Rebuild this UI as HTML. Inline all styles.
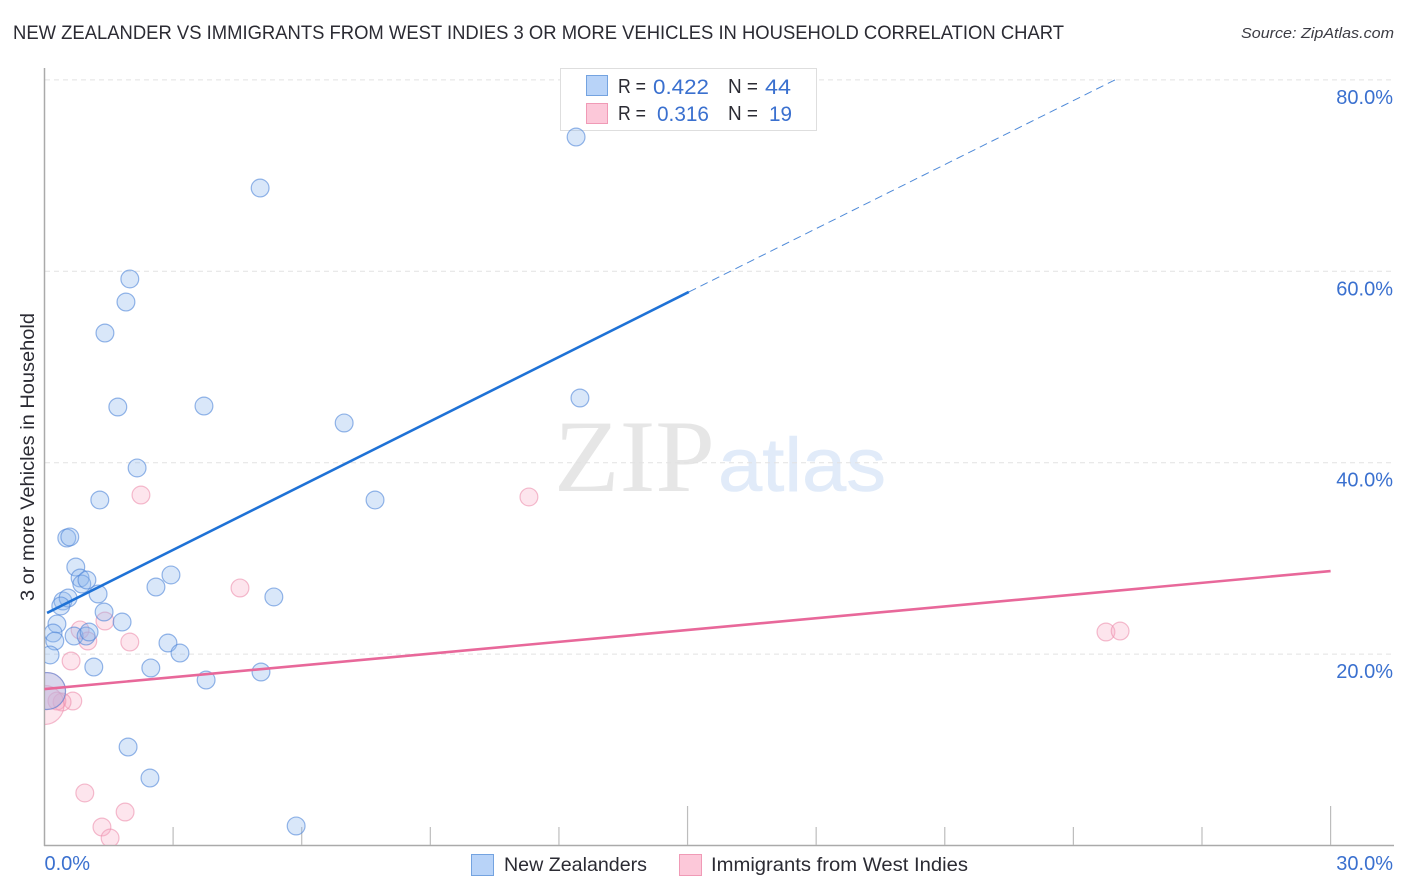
<!DOCTYPE html>
<html lang="en">
<head>
<meta charset="utf-8">
<title>New Zealander vs Immigrants from West Indies correlation chart</title>
<style>
html,body{margin:0;padding:0;background:#fff;width:1406px;height:892px;overflow:hidden}
svg{display:block;font-family:"Liberation Sans",sans-serif}
</style>
</head>
<body>
<svg id="chart" xmlns="http://www.w3.org/2000/svg" width="1406" height="892" viewBox="0 0 1406 892">
  <text x="13" y="39" font-size="19.5" fill="#2b2b33" textLength="1051" lengthAdjust="spacingAndGlyphs">NEW ZEALANDER VS IMMIGRANTS FROM WEST INDIES 3 OR MORE VEHICLES IN HOUSEHOLD CORRELATION CHART</text>
  <text x="1394" y="38" font-size="15" font-style="italic" fill="#3c3c44" text-anchor="end" textLength="153" lengthAdjust="spacingAndGlyphs">Source: ZipAtlas.com</text>

  <g>
    <text x="554" y="491" font-family="'Liberation Serif',serif" font-size="103" fill="#e6e6e6" textLength="161" lengthAdjust="spacingAndGlyphs">ZIP</text>
    <text x="718" y="491" font-size="76" fill="#e1ebf9" stroke="#e1ebf9" stroke-width="0.6" textLength="168" lengthAdjust="spacingAndGlyphs">atlas</text>
  </g>

  <g id="grid"></g>

  <g>
    <rect x="560.5" y="68.5" width="256" height="62" fill="#fff" stroke="#dedede"></rect>
    <rect x="586.5" y="75.5" width="21" height="20" fill="#b8d3f8" stroke="#74a3e0"></rect>
    <rect x="586.5" y="103.5" width="21" height="20" fill="#fcc8d9" stroke="#f09ab6"></rect>
    <g font-size="20" fill="#2b2b33">
      <text x="618" y="93" textLength="28" lengthAdjust="spacingAndGlyphs">R =</text>
      <text x="728" y="93" textLength="30" lengthAdjust="spacingAndGlyphs">N =</text>
      <text x="618" y="120" textLength="28" lengthAdjust="spacingAndGlyphs">R =</text>
      <text x="728" y="120" textLength="30" lengthAdjust="spacingAndGlyphs">N =</text>
    </g>
    <g font-size="21.5" fill="#3a70cf">
      <text x="653" y="94" textLength="56" lengthAdjust="spacingAndGlyphs">0.422</text>
      <text x="765" y="94" textLength="26" lengthAdjust="spacingAndGlyphs">44</text>
      <text x="657" y="121" textLength="52" lengthAdjust="spacingAndGlyphs">0.316</text>
      <text x="769" y="121" textLength="23" lengthAdjust="spacingAndGlyphs">19</text>
    </g>
  </g>

  <g id="axes"></g>
  <defs>
    <clipPath id="plot-clip"><rect x="45" y="60" width="1350" height="785"></rect></clipPath>
  </defs>
  <g id="pink-points" clip-path="url(#plot-clip)"></g>
  <g id="blue-points" clip-path="url(#plot-clip)"></g>
  <g id="trends"></g>
  <g id="tick-labels"></g>

  <text transform="translate(34,457) rotate(-90)" font-size="19.5" fill="#2b2b33" text-anchor="middle" textLength="288" lengthAdjust="spacingAndGlyphs">3 or more Vehicles in Household</text>

  <g>
    <g>
      <rect x="471.5" y="854.5" width="22" height="21" fill="#b8d3f8" stroke="#74a3e0"></rect>
      <text x="504" y="871" font-size="19.5" fill="#2b2b33" textLength="143" lengthAdjust="spacingAndGlyphs">New Zealanders</text>
    </g>
    <g>
      <rect x="679.5" y="854.5" width="22" height="21" fill="#fcc8d9" stroke="#f09ab6"></rect>
      <text x="711" y="871" font-size="19.5" fill="#2b2b33" textLength="257" lengthAdjust="spacingAndGlyphs">Immigrants from West Indies</text>
    </g>
  </g>
</svg>
<script>
const blueX = [12.40,5.03,1.99,1.90,1.41,1.71,3.72,12.49,6.99,2.16,1.29,7.71,0.52,0.59,0.73,0.83,0.87,0.99,1.25,0.43,0.55,0.38,1.39,1.81,0.29,0.20,0.24,0.69,0.97,1.04,0.13,1.15,2.48,2.88,3.16,3.77,5.05,2.60,2.95,5.35,1.95,2.46,5.87,0.06];
const blueY = [74.03,68.70,59.20,56.79,53.55,45.82,45.92,46.76,44.15,39.45,36.10,36.10,32.13,32.24,29.10,27.95,27.32,27.74,26.28,25.55,25.86,25.03,24.40,23.35,23.15,22.20,21.37,21.89,21.89,22.31,19.91,18.65,18.55,21.16,20.11,17.29,18.13,27.01,28.27,25.97,10.29,7.05,2.04,16.14];
const blueWeight = [1,1,1,1,1,1,1,1,1,1,1,1,1,1,1,1,1,1,1,1,1,1,1,1,1,1,1,1,1,1,1,1,1,1,1,1,1,1,1,1,1,1,1,4.3];
const pinkX = [2.25,11.30,4.56,1.99,1.41,0.83,1.01,0.62,24.76,25.09,0.66,0.41,0.29,0.94,1.88,1.34,1.53,0.00,0.06];
const pinkY = [36.62,36.42,26.91,21.26,23.46,22.52,21.37,19.28,22.31,22.41,15.10,14.99,15.10,5.49,3.50,1.93,0.78,14.68,16.14];
const pinkWeight = [1,1,1,1,1,1,1,1,1,1,1,1,1,1,1,1,1,4.8,4.3];
const blueTrendX = [0.06,15.03];
const blueTrendY = [24.30,57.84];
const blueDashX = [15.03,24.97];
const blueDashY = [57.84,80.00];
const pinkTrendX = [0,30];
const pinkTrendY = [16.35,28.68];
const yTickValues = [20,40,60,80];
const yTickLabels = ["20.0%","40.0%","60.0%","80.0%"];
const xTickValues = [3,6,9,12,15,18,21,24,27,30];
const xEndValues = [0,30];
const xEndLabels = ["0.0%","30.0%"];

const NS = "http://www.w3.org/2000/svg";
function xScale(v){ return 44.5 + v * 42.87; }
function yScale(v){ return 845.5 - v * 9.57; }
function radius(w){ return 8.9 * Math.sqrt(w); }
function make(tag, attrs, parent){
  const el = document.createElementNS(NS, tag);
  for (const k in attrs) el.setAttribute(k, attrs[k]);
  parent.appendChild(el);
  return el;
}

const gridG = document.getElementById("grid");
const axesG = document.getElementById("axes");
const labelsG = document.getElementById("tick-labels");

yTickValues.forEach(function(v, i){
  const line = make("line", {x1:45, x2:1393, y1:yScale(v), y2:yScale(v), stroke:"#e2e2e2", "stroke-width":1, "stroke-dasharray":"5 4"}, gridG);
  
  
  const t = make("text", {x:1393, y:yScale(v)+24, "text-anchor":"end", "font-size":20, fill:"#3a70cf"}, labelsG);
  t.textContent = yTickLabels[i];
  
  
});

const leftAxis = make("line", {x1:44.5, x2:44.5, y1:68, y2:846, stroke:"#aaaaaa", "stroke-width":1.5}, axesG);


const bottomAxis = make("line", {x1:44, x2:1394, y1:845.5, y2:845.5, stroke:"#aaaaaa", "stroke-width":1.5}, axesG);



xTickValues.forEach(function(v){
  const major = v % 15 === 0;
  const tick = make("line", {x1:xScale(v), x2:xScale(v), y1:major ? 806 : 827, y2:845, stroke:"#bdbdbd", "stroke-width":1.2}, axesG);
  
  
});

xEndValues.forEach(function(v, i){
  const t = make("text", {x:i === 0 ? xScale(v) : 1393, y:870, "text-anchor":i === 0 ? "start" : "end", "font-size":20, fill:"#3a70cf"}, labelsG);
  t.textContent = xEndLabels[i];
  
  
});

const pinkG = document.getElementById("pink-points");
pinkX.forEach(function(v, i){
  const c = make("circle", {cx:xScale(v), cy:yScale(pinkY[i]), r:radius(pinkWeight[i]), fill:"#f8a9c3", "fill-opacity":0.3, stroke:"#ec8fae", "stroke-opacity":0.6, "stroke-width":1.2}, pinkG);
  
  
});

const blueG = document.getElementById("blue-points");
blueX.forEach(function(v, i){
  const c = make("circle", {cx:xScale(v), cy:yScale(blueY[i]), r:radius(blueWeight[i]), fill:"#8fb8ee", "fill-opacity":0.34, stroke:"#4f86d8", "stroke-opacity":0.6, "stroke-width":1.2}, blueG);
  
  
});

const trendG = document.getElementById("trends");
const blueTrend = make("line", {x1:xScale(blueTrendX[0]), y1:yScale(blueTrendY[0]), x2:xScale(blueTrendX[1]), y2:yScale(blueTrendY[1]), stroke:"#1f72d6", "stroke-width":2.6}, trendG);


const blueDash = make("line", {x1:xScale(blueDashX[0]), y1:yScale(blueDashY[0]), x2:xScale(blueDashX[1]), y2:yScale(blueDashY[1]), stroke:"#4f8ad8", "stroke-width":1, "stroke-dasharray":"8 5"}, trendG);


const pinkTrend = make("line", {x1:xScale(pinkTrendX[0]), y1:yScale(pinkTrendY[0]), x2:xScale(pinkTrendX[1]), y2:yScale(pinkTrendY[1]), stroke:"#e8689a", "stroke-width":2.6}, trendG);


</script>
</body>
</html>
